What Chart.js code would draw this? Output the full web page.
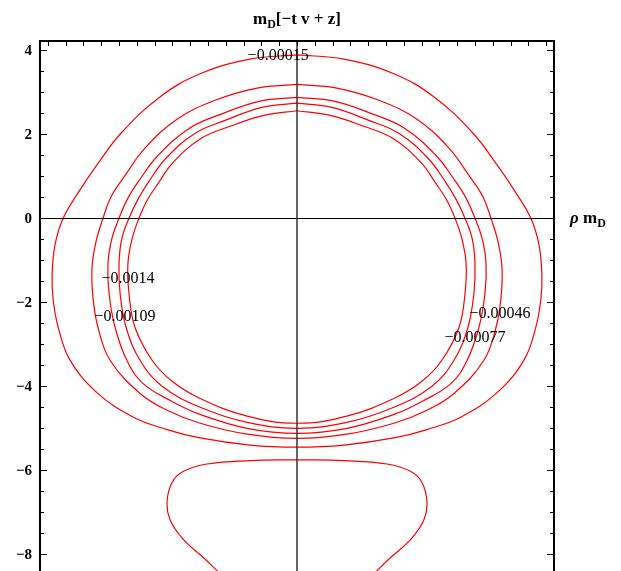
<!DOCTYPE html>
<html>
<head>
<meta charset="utf-8">
<script src="https://cdn.jsdelivr.net/npm/chart.js@4"></script>
<style>
  html, body { margin: 0; padding: 0; background: #fff; overflow: hidden; }
</style>
</head>
<body>
<canvas id="plot" width="621" height="595"></canvas>
<script>
// contour levels (x = rho m_D, y = m_D(z - t v))
const contourA = [[0,3.89],[-1.32,3.79],[-2.72,3.44],[-3.85,2.89],[-4.94,2.03],[-5.62,1.27],[-6.10,0.67],[-6.57,0],
  [-6.80,-0.64],[-6.88,-1.35],[-6.85,-1.94],[-6.71,-2.59],[-6.38,-3.37],[-5.62,-4.15],[-4.61,-4.73],[-3.65,-5.03],
  [-2.72,-5.23],[-1.32,-5.40],[0,-5.45],[1.32,-5.40],[2.72,-5.23],[3.65,-5.03],[4.61,-4.73],[5.62,-4.15],[6.38,-3.37],
  [6.71,-2.59],[6.85,-1.94],[6.88,-1.35],[6.80,-0.64],[6.57,0],[6.10,0.67],[5.62,1.27],[4.94,2.03],[3.85,2.89],
  [2.72,3.44],[1.32,3.79],[0,3.89]];
const contourB = [[0,3.19],[-1.12,3.10],[-2.30,2.81],[-3.37,2.36],[-4.27,1.67],[-4.83,1.02],[-5.22,0.52],[-5.45,0],
  [-5.65,-0.57],[-5.76,-1.19],[-5.73,-1.90],[-5.59,-2.60],[-5.25,-3.38],[-4.41,-4.17],[-3.65,-4.57],[-2.72,-4.88],
  [-1.40,-5.14],[0,-5.24],[1.40,-5.14],[2.72,-4.88],[3.65,-4.57],[4.41,-4.17],[5.25,-3.38],[5.59,-2.60],[5.73,-1.90],
  [5.76,-1.19],[5.65,-0.57],[5.45,0],[5.22,0.52],[4.83,1.02],[4.27,1.67],[3.37,2.36],[2.30,2.81],[1.12,3.10],[0,3.19]];
const contourC = [[0,2.88],[-1.04,2.79],[-2.13,2.48],[-3.03,2.14],[-3.90,1.50],[-4.41,0.93],[-4.75,0.48],[-5.00,0],
  [-5.20,-0.48],[-5.31,-1.07],[-5.28,-1.79],[-5.11,-2.60],[-4.78,-3.38],[-4.33,-3.93],[-3.51,-4.36],[-2.72,-4.67],
  [-1.40,-5.00],[0,-5.12],[1.40,-5.00],[2.72,-4.67],[3.51,-4.36],[4.33,-3.93],[4.78,-3.38],[5.11,-2.60],[5.28,-1.79],
  [5.31,-1.07],[5.20,-0.48],[5.00,0],[4.75,0.48],[4.41,0.93],[3.90,1.50],[3.03,2.14],[2.13,2.48],[1.04,2.79],[0,2.88]];
const contourD = [[0,2.74],[-0.98,2.64],[-2.02,2.33],[-2.87,2.02],[-3.68,1.43],[-4.16,0.88],[-4.47,0.45],[-4.72,0],
  [-4.92,-0.48],[-5.00,-1.07],[-4.97,-1.79],[-4.80,-2.60],[-4.41,-3.38],[-3.79,-4.00],[-2.72,-4.50],[-1.40,-4.86],
  [0,-5.00],[1.40,-4.86],[2.72,-4.50],[3.79,-4.00],[4.41,-3.38],[4.80,-2.60],[4.97,-1.79],[5.00,-1.07],[4.92,-0.48],
  [4.72,0],[4.47,0.45],[4.16,0.88],[3.68,1.43],[2.87,2.02],[2.02,2.33],[0.98,2.64],[0,2.74]];
const contourE = [[0,2.56],[-0.93,2.45],[-1.88,2.19],[-2.70,1.90],[-3.48,1.33],[-3.90,0.83],[-4.21,0.43],[-4.44,0],
  [-4.63,-0.48],[-4.75,-1.07],[-4.72,-1.79],[-4.55,-2.60],[-4.07,-3.38],[-3.51,-3.88],[-2.72,-4.29],[-1.40,-4.71],
  [0,-4.88],[1.40,-4.71],[2.72,-4.29],[3.51,-3.88],[4.07,-3.38],[4.55,-2.60],[4.72,-1.79],[4.75,-1.07],[4.63,-0.48],
  [4.44,0],[4.21,0.43],[3.90,0.83],[3.48,1.33],[2.70,1.90],[1.88,2.19],[0.93,2.45],[0,2.56]];
const contourF = [[0,-5.75],[-1.32,-5.77],[-2.53,-5.85],[-3.20,-6.03],[-3.51,-6.29],[-3.65,-6.75],[-3.57,-7.17],
  [-3.20,-7.64],[-2.60,-8.10],[-2.10,-8.50],[-1.50,-8.90],[-0.76,-9.20],[0,-9.30],[0.76,-9.20],[1.50,-8.90],
  [2.10,-8.50],[2.60,-8.10],[3.20,-7.64],[3.57,-7.17],[3.65,-6.75],[3.51,-6.29],[3.20,-6.03],[2.53,-5.85],
  [1.32,-5.77],[0,-5.75]];

const contourLabels = ['\u22120.00015', '\u22120.0014', '\u22120.00109', '\u22120.00046', '\u22120.00077'];
const contourLabelX = [-0.53, -4.75, -4.83, 5.70, 5.00];
const contourLabelY = [3.89, -1.42, -2.32, -2.25, -2.83];

const yTickLabels = [4, 2, 0, -2, -4, -6, -8];

const toXY = pts => pts.map(p => ({x: p[0], y: p[1]}));
const contours = [contourA, contourB, contourC, contourD, contourE, contourF];

const framePlugin = {
  id: 'frame',
  afterDatasetsDraw(chart) {
    const ctx = chart.ctx;
    const xs = chart.scales.x, ys = chart.scales.y;
    const area = chart.chartArea;
    ctx.save();

    // axes through the origin
    const x0 = xs.getPixelForValue(0), y0 = ys.getPixelForValue(0);
    ctx.strokeStyle = '#000';
    ctx.lineWidth = 1;
    ctx.beginPath();
    ctx.moveTo(area.left, Math.round(y0) + 0.5);
    ctx.lineTo(area.right, Math.round(y0) + 0.5);
    ctx.stroke();
    ctx.strokeStyle = '#333';
    ctx.lineWidth = 1.5;
    ctx.beginPath();
    ctx.moveTo(x0, area.top);
    ctx.lineTo(x0, area.bottom);
    ctx.stroke();

    // frame
    ctx.strokeStyle = '#000';
    ctx.lineWidth = 2;
    ctx.strokeRect(area.left, area.top, area.right - area.left, area.bottom - area.top);

    // inward ticks
    ctx.lineWidth = 1;
    ctx.beginPath();
    for (let v = -8.5; v <= 4; v += 0.5) {
      const py = Math.round(ys.getPixelForValue(v)) + 0.5;
      const len = (v % 2 === 0) ? 6 : 3;
      ctx.moveTo(area.left, py); ctx.lineTo(area.left + 1 + len, py);
      ctx.moveTo(area.right, py); ctx.lineTo(area.right - 1 - len, py);
    }
    for (let v = -7; v <= 7; v += 0.5) {
      const px = Math.round(xs.getPixelForValue(v)) + 0.5;
      ctx.moveTo(px, area.top); ctx.lineTo(px, area.top + 5);
    }
    ctx.stroke();

    // y tick labels
    ctx.fillStyle = '#000';
    ctx.font = 'bold 15px "Liberation Serif"';
    ctx.textAlign = 'right';
    ctx.textBaseline = 'middle';
    yTickLabels.forEach(v => {
      const txt = v < 0 ? '\u2212' + Math.abs(v) : String(v);
      ctx.fillText(txt, area.left - 8, ys.getPixelForValue(v) + 1);
    });

    // contour labels
    ctx.font = '16px "Liberation Serif"';
    ctx.textAlign = 'center';
    contourLabels.forEach((t, i) => {
      ctx.fillText(t, xs.getPixelForValue(contourLabelX[i]), ys.getPixelForValue(contourLabelY[i]) + 1);
    });

    // title m_D[-t v + z]
    ctx.textAlign = 'left';
    ctx.textBaseline = 'alphabetic';
    const big = 'bold 17px "Liberation Serif"', small = 'bold 12px "Liberation Serif"';
    const parts = [['m', big, 0], ['D', small, 4], ['[\u2212t v + z]', big, 0]];
    let w = 0;
    parts.forEach(p => { ctx.font = p[1]; w += ctx.measureText(p[0]).width; });
    let cx = x0 - w / 2;
    parts.forEach(p => { ctx.font = p[1]; ctx.fillText(p[0], cx, 24 + p[2]); cx += ctx.measureText(p[0]).width; });

    // horizontal axis label
    cx = 570;
    const ay = y0 + 5;
    ctx.font = 'italic bold 17px "Liberation Serif"';
    ctx.fillText('\u03c1', cx, ay); cx += ctx.measureText('\u03c1 ').width;
    ctx.font = big;
    ctx.fillText('m', cx, ay); cx += ctx.measureText('m').width;
    ctx.font = small;
    ctx.fillText('D', cx, ay + 4);

    ctx.restore();
  }
};

new Chart(document.getElementById('plot').getContext('2d'), {
  type: 'scatter',
  data: {
    datasets: contours.map(c => ({
      data: toXY(c),
      showLine: true,
      borderColor: '#ff0000',
      borderWidth: 1.2,
      pointRadius: 0,
      tension: 0.4,
      fill: false
    }))
  },
  options: {
    responsive: false,
    animation: false,
    layout: { padding: { left: 40, right: 67, top: 41, bottom: 10 } },
    scales: {
      x: { type: 'linear', min: -7.22, max: 7.22, display: false },
      y: { type: 'linear', min: -8.731, max: 4.221, display: false }
    },
    plugins: {
      legend: { display: false },
      tooltip: { enabled: false }
    }
  },
  plugins: [framePlugin]
});
</script>
</body>
</html>
